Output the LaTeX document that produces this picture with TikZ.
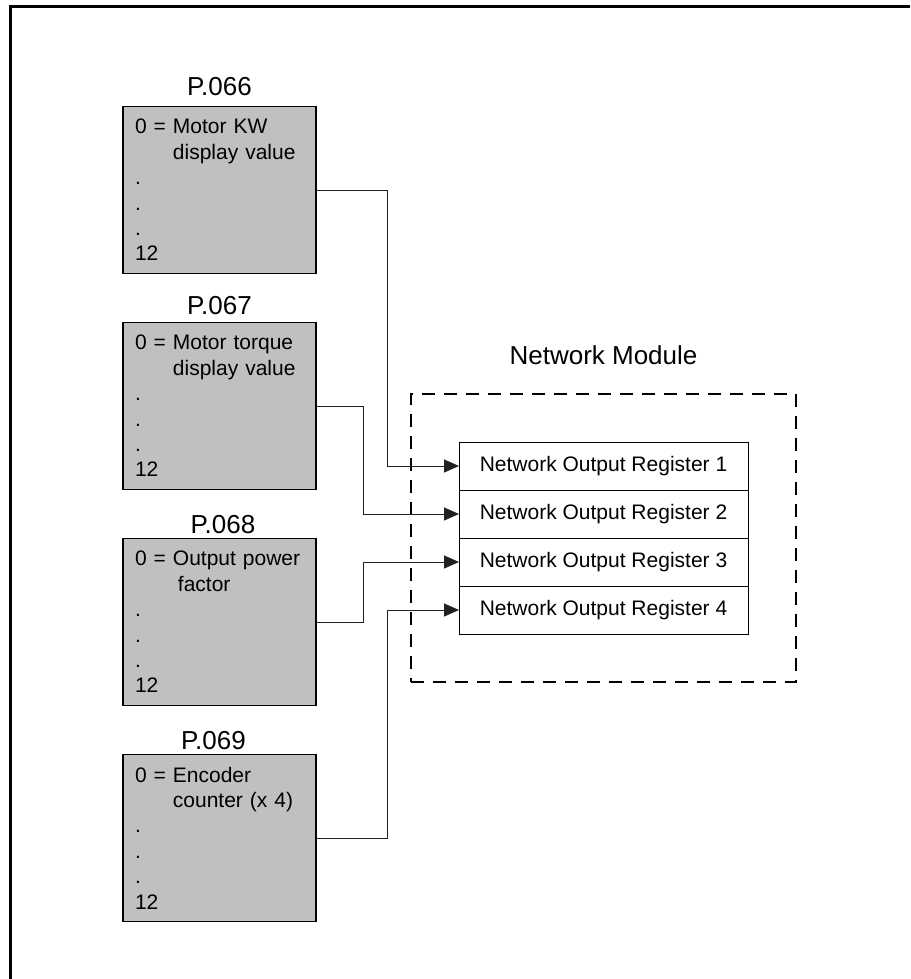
\documentclass[tikz,border=0pt]{standalone}
\usepackage{fontspec}
\setmainfont{Liberation Sans}
\usetikzlibrary{arrows.meta,positioning,fit}
\definecolor{boxgray}{HTML}{C0C0C0}
\definecolor{wireink}{HTML}{202020}
\tikzset{
  >={Triangle[length=15pt,width=13pt]},
  parambox/.style={
    draw=black, line width=1.2pt, fill=boxgray, align=left,
    text width=169pt, inner xsep=12pt, inner ysep=0pt,
    minimum height=167pt, font=\fontsize{21}{25.4}\selectfont
  },
  partitle/.style={inner sep=0pt, font=\fontsize{26}{30}\selectfont},
  regbox/.style={
    draw=black, line width=1pt, fill=white, inner sep=0pt, outer sep=0pt,
    minimum width=289pt, minimum height=48pt, font=\fontsize{21}{25}\selectfont
  },
  modbox/.style={draw=black, line width=2pt, dash pattern=on 13pt off 9pt, inner sep=48pt},
  wire/.style={->, line width=1pt, draw=wireink}
}
\newcommand{\indentval}{\phantom{0 = }}

\begin{document}
\begin{tikzpicture}[x=1pt,y=-1pt]
  \useasboundingbox (0,0) rectangle (910,979);
  % page frame
  \draw[line width=3pt] (10,979) -- (10,6.5) -- (910,6.5);

  % parameter boxes
  \node[parambox] (box066) at (219.5,190) {0 = Motor KW\\\indentval display value\\.\\.\\.\\12};
  \node[parambox] (box067) at (219.5,406) {0 = Motor torque\\\indentval display value\\.\\.\\.\\12};
  \node[parambox] (box068) at (219.5,622) {0 = Output power\\\indentval\hspace{5pt}factor\\.\\.\\.\\12};
  \node[parambox] (box069) at (219.5,838) {0 = Encoder\\\indentval counter (x 4)\\.\\.\\.\\12};

  \node[partitle, above=10pt of box066.north] (t066) {P.066};
  \node[partitle, above=7pt of box067.north] (t067) {P.067};
  \node[partitle, above=4pt of box068.north, xshift=3.5pt] (t068) {P.068};
  \node[partitle, above=4pt of box069.north, xshift=-6pt] (t069) {P.069};

  % network module
  \node[regbox] (reg1) at (603.5,466) {Network Output Register 1};
  \node[regbox, below=0pt of reg1] (reg2) {Network Output Register 2};
  \node[regbox, below=0pt of reg2] (reg3) {Network Output Register 3};
  \node[regbox, below=0pt of reg3] (reg4) {Network Output Register 4};

  \node[modbox, fit=(reg1)(reg4)] (netmod) {};
  \node[partitle, above=28pt of netmod.north] (netlbl) {Network Module};

  % connections
  \draw[wire] (box066.east) -- ++(71,0) |- (reg1.west);
  \draw[wire] (box067.east) -- ++(47,0) |- (reg2.west);
  \draw[wire] (box068.east) -- ++(47,0) |- (reg3.west);
  \draw[wire] (box069.east) -- ++(71,0) |- (reg4.west);
\end{tikzpicture}
\end{document}
